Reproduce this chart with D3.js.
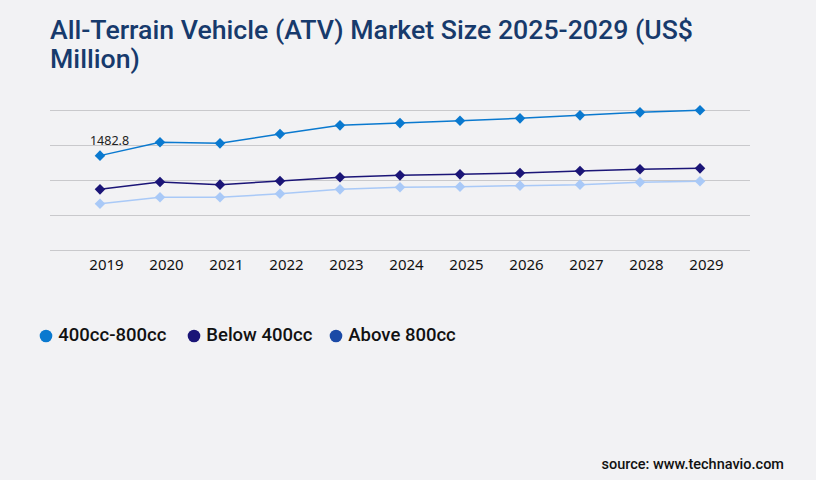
<!DOCTYPE html>
<html>
<head>
<meta charset="utf-8">
<script src="https://cdn.jsdelivr.net/npm/d3@7"></script>
<style>
  html, body { margin: 0; padding: 0; background: #f2f2f4; }
  svg { display: block; }
</style>
</head>
<body>
<svg id="chart" width="816" height="480"></svg>
<script>
const years = ["2019","2020","2021","2022","2023","2024","2025","2026","2027","2028","2029"];
const seriesNames = ["400cc-800cc", "Below 400cc", "Above 800cc"];
const mid400to800 = [1482.8, 1692, 1676, 1823, 1959, 1994, 2032, 2069, 2116, 2163, 2195];
const below400 = [953, 1068, 1027, 1084, 1142, 1173, 1189, 1210, 1241, 1268, 1283];
const above800 = [728, 828, 828, 885, 953, 985, 995, 1011, 1027, 1064, 1080];
const gridTicks = [0, 550, 1100, 1650, 2200];
const lineColors = ["#0a79cf", "#1b1577", "#a9c9f7"];
const legendColors = ["#0a79cf", "#1b1577", "#1b4aa6"];
const titleLines = ["All-Terrain Vehicle (ATV) Market Size 2025-2029 (US$", "Million)"];
const sourceText = "source: www.technavio.com";

const svg = d3.select("#chart");
svg.append("rect").attr("width", 816).attr("height", 480).attr("fill", "#f2f2f4");

// title
const title = svg.append("text")
  .attr("x", 50).attr("y", 39)
  .attr("font-family", "Roboto, sans-serif")
  .attr("font-weight", 500)
  .attr("font-size", 26.7)
  .attr("fill", "#173a6c");
titleLines.forEach((t, i) => {
  title.append("tspan").attr("x", 50).attr("dy", i === 0 ? 0 : 29).text(t);
});

const x = d3.scalePoint().domain(years).range([100, 700]);
const y = d3.scaleLinear().domain([0, 2200]).range([250, 110]);

// gridlines
const grid = svg.append("g").attr("transform", "translate(750,0)")
  .call(d3.axisLeft(y).tickValues(gridTicks).tickSize(700).tickFormat(""));
grid.select(".domain").remove();
grid.selectAll("line").attr("stroke", "#c9c9cc").attr("stroke-width", 1);

// x axis labels
const xa = svg.append("g").attr("transform", "translate(0,250)")
  .call(d3.axisBottom(x).tickSize(0).tickPadding(0));
xa.select(".domain").remove();
xa.selectAll("text")
  .attr("dx", 6).attr("dy", 20)
  .attr("font-family", "'Noto Sans', sans-serif")
  .attr("font-size", 15)
  .attr("fill", "#111");

const allSeries = [mid400to800, below400, above800];
const drawOrder = [2, 1, 0];
const line = d3.line().x((d, i) => x(years[i])).y(d => y(d));
const diamond = d3.symbol().type(d3.symbolSquare).size(56);

drawOrder.forEach(si => {
  const vals = allSeries[si];
  svg.append("path").datum(vals)
    .attr("d", line)
    .attr("fill", "none")
    .attr("stroke", lineColors[si])
    .attr("stroke-width", 1.5);
  svg.append("g").selectAll("path").data(vals).join("path")
    .attr("d", diamond)
    .attr("transform", (d, i) => `translate(${x(years[i])},${y(d)}) rotate(45)`)
    .attr("fill", lineColors[si]);
});

// data label
svg.append("text")
  .attr("x", x(years[0]) + 9.5).attr("y", y(mid400to800[0]) - 10.5)
  .attr("text-anchor", "middle")
  .attr("font-family", "'Noto Sans', sans-serif")
  .attr("font-size", 12.5)
  .attr("fill", "#222")
  .text(mid400to800[0]);

// legend
const legendX = [46, 194, 336];
seriesNames.forEach((n, i) => {
  svg.append("circle").attr("cx", legendX[i]).attr("cy", 336).attr("r", 6.3).attr("fill", legendColors[i]);
  svg.append("text").attr("x", legendX[i] + 12.3).attr("y", 341)
    .attr("font-family", "Roboto, sans-serif")
    .attr("font-weight", 500)
    .attr("font-size", 18.5)
    .attr("fill", "#111")
    .text(n);
});

// source
svg.append("text").attr("x", 784).attr("y", 469)
  .attr("text-anchor", "end")
  .attr("font-family", "Roboto, sans-serif")
  .attr("font-weight", 500)
  .attr("font-size", 14.5)
  .attr("fill", "#111")
  .text(sourceText);
</script>
</body>
</html>
